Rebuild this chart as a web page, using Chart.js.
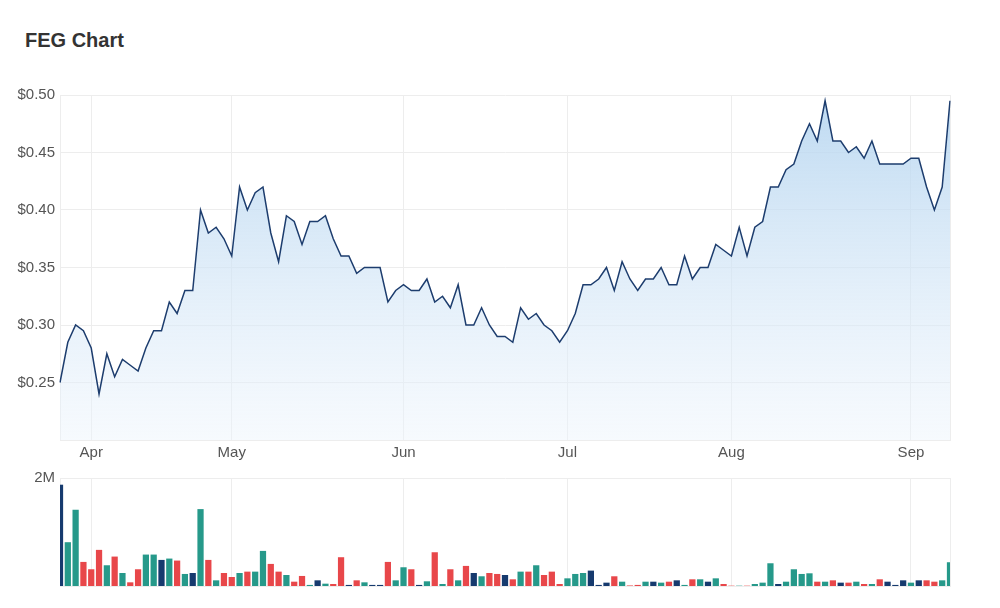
<!DOCTYPE html>
<html>
<head>
<meta charset="utf-8">
<title>FEG Chart</title>
<script src="https://cdn.jsdelivr.net/npm/chart.js@4"></script>
<style>
  body { margin: 0; background: #fff; font-family: "Liberation Sans", Arial, sans-serif; }
  #title { position: absolute; left: 25px; top: 29px; font-size: 20px; font-weight: bold; color: #333; }
  #priceBox { position: absolute; left: 0; top: 80px; width: 1000px; height: 390px; }
  #volumeBox { position: absolute; left: 0; top: 460px; width: 1000px; height: 140px; }
</style>
</head>
<body>
<div id="title">FEG Chart</div>
<div id="priceBox"><canvas id="priceChart"></canvas></div>
<div id="volumeBox"><canvas id="volumeChart"></canvas></div>
<script>
// Daily closing price, one value per trading day
const prices = [
    0.25, 0.285, 0.30, 0.295, 0.28, 0.24, 0.275, 0.255, 0.27, 0.265,
    0.26, 0.28, 0.295, 0.295, 0.32, 0.31, 0.33, 0.33, 0.40, 0.38,
    0.385, 0.375, 0.36, 0.42, 0.40, 0.415, 0.42, 0.38, 0.355, 0.395,
    0.39, 0.37, 0.39, 0.39, 0.395, 0.375, 0.36, 0.36, 0.345, 0.35,
    0.35, 0.35, 0.32, 0.33, 0.335, 0.33, 0.33, 0.34, 0.32, 0.325,
    0.315, 0.335, 0.30, 0.30, 0.315, 0.30, 0.29, 0.29, 0.285, 0.315,
    0.305, 0.31, 0.30, 0.295, 0.285, 0.295, 0.31, 0.335, 0.335, 0.34,
    0.35, 0.33, 0.355, 0.34, 0.33, 0.34, 0.34, 0.35, 0.335, 0.335,
    0.36, 0.34, 0.35, 0.35, 0.37, 0.365, 0.36, 0.385, 0.36, 0.385,
    0.39, 0.42, 0.42, 0.435, 0.44, 0.46, 0.475, 0.46, 0.495, 0.46,
    0.46, 0.45, 0.455, 0.445, 0.46, 0.44, 0.44, 0.44, 0.44, 0.445,
    0.445, 0.42, 0.40, 0.42, 0.495
];

// Daily volume in millions of shares
const volumeMillions = [
    1.876, 0.811, 1.412, 0.446, 0.31, 0.669, 0.384, 0.545, 0.241, 0.068,
    0.31, 0.582, 0.582, 0.483, 0.508, 0.471, 0.223, 0.241, 1.424, 0.483,
    0.105, 0.241, 0.167, 0.241, 0.266, 0.266, 0.65, 0.409, 0.266, 0.204,
    0.08, 0.186, 0.02, 0.105, 0.043, 0.037, 0.533, 0.02, 0.105, 0.068,
    0.02, 0.02, 0.446, 0.105, 0.347, 0.31, 0.02, 0.087, 0.625, 0.037,
    0.31, 0.105, 0.372, 0.241, 0.18, 0.241, 0.223, 0.204, 0.124, 0.266,
    0.266, 0.384, 0.204, 0.266, 0.037, 0.142, 0.223, 0.241, 0.285, 0.02,
    0.062, 0.18, 0.08, 0.01, 0.02, 0.08, 0.08, 0.062, 0.08, 0.105,
    0.02, 0.124, 0.124, 0.08, 0.142, 0.037, 0.006, 0.006, 0.006, 0.037,
    0.062, 0.421, 0.037, 0.08, 0.31, 0.223, 0.235, 0.08, 0.08, 0.105,
    0.062, 0.062, 0.08, 0.037, 0.037, 0.124, 0.08, 0.02, 0.105, 0.062,
    0.105, 0.105, 0.08, 0.105, 0.44
];

// Bar colour per day as seen in the chart: u = up, d = down, n = unchanged
const volumeMove = [
    'nuudddudud', 'duunudunud', 'udduduuddu', 'ddunuddndu', 'nnduudnudu',
    'dudnuddndu', 'duddduuunn', 'nduddunudn', 'udunuddudu', 'uunuuuudud',
    'ndududnnnu', 'ndduu'
].join('').split('');

// Month tick labels and the trading-day index where each month starts
const monthNames = ['Apr', 'May', 'Jun', 'Jul', 'Aug', 'Sep'];
const monthStartIndex = [4, 22, 44, 65, 86, 109];

const dayLabels = prices.map(() => '');
monthStartIndex.forEach((idx, i) => { dayLabels[idx] = monthNames[i]; });

const gridColor = '#ededed';
const tickColor = '#555';
const moveColors = { u: '#26998a', d: '#e8474a', n: '#163a6e' };

Chart.defaults.font.family = '"Liberation Sans", Arial, sans-serif';
Chart.defaults.font.size = 15;
Chart.defaults.color = tickColor;
Chart.defaults.animation = false;

// x grid lines only at month starts plus the right edge
function monthTicks(axis) {
    const ticks = monthStartIndex.map(v => ({ value: v }));
    ticks.push({ value: prices.length - 1 });
    axis.ticks = ticks;
}

const priceCtx = document.getElementById('priceChart').getContext('2d');
new Chart(priceCtx, {
    type: 'line',
    data: {
        labels: dayLabels,
        datasets: [{
            data: prices,
            borderColor: '#1d3d6e',
            borderWidth: 1.5,
            pointRadius: 0,
            tension: 0,
            fill: 'start',
            backgroundColor: (context) => {
                const area = context.chart.chartArea;
                if (!area) return 'rgba(190,220,242,0.6)';
                const g = context.chart.ctx.createLinearGradient(0, area.top, 0, area.bottom);
                g.addColorStop(0, 'rgba(178,211,239,0.85)');
                g.addColorStop(1, 'rgba(236,244,252,0.45)');
                return g;
            }
        }]
    },
    options: {
        responsive: true,
        maintainAspectRatio: false,
        layout: { padding: { top: 15, right: 50, left: 0, bottom: 0 } },
        plugins: { legend: { display: false }, tooltip: { enabled: false } },
        scales: {
            x: {
                type: 'category',
                offset: false,
                afterBuildTicks: monthTicks,
                afterFit: axis => { axis.height = 30; },
                grid: { color: gridColor, drawTicks: false, offset: false },
                border: { color: gridColor },
                ticks: { autoSkip: false, maxRotation: 0, padding: 4, color: tickColor }
            },
            y: {
                min: 0.20,
                max: 0.50,
                afterFit: axis => { axis.width = 60; },
                grid: { color: gridColor, drawTicks: false },
                border: { color: gridColor },
                ticks: {
                    stepSize: 0.05,
                    padding: 5,
                    color: tickColor,
                    callback: v => (v < 0.21 ? '' : '$' + v.toFixed(2))
                }
            }
        }
    }
});

const volumeCtx = document.getElementById('volumeChart').getContext('2d');
new Chart(volumeCtx, {
    type: 'bar',
    data: {
        labels: dayLabels,
        datasets: [{
            data: volumeMillions,
            backgroundColor: volumeMove.map(m => moveColors[m]),
            borderWidth: 0,
            barPercentage: 0.8,
            categoryPercentage: 1
        }]
    },
    options: {
        responsive: true,
        maintainAspectRatio: false,
        layout: { padding: { top: 18, right: 50, left: 0, bottom: 0 } },
        plugins: { legend: { display: false }, tooltip: { enabled: false } },
        scales: {
            x: {
                type: 'category',
                offset: false,
                afterBuildTicks: monthTicks,
                afterFit: axis => { axis.height = 14; },
                grid: { color: gridColor, drawTicks: false, offset: false },
                border: { color: gridColor },
                ticks: { display: false }
            },
            y: {
                min: 0,
                max: 2,
                afterBuildTicks: axis => { axis.ticks = [{ value: 2 }]; },
                afterFit: axis => { axis.width = 60; },
                grid: { color: gridColor, drawTicks: false },
                border: { color: gridColor },
                ticks: { padding: 5, color: tickColor, callback: v => v + 'M' }
            }
        }
    }
});
</script>
</body>
</html>
